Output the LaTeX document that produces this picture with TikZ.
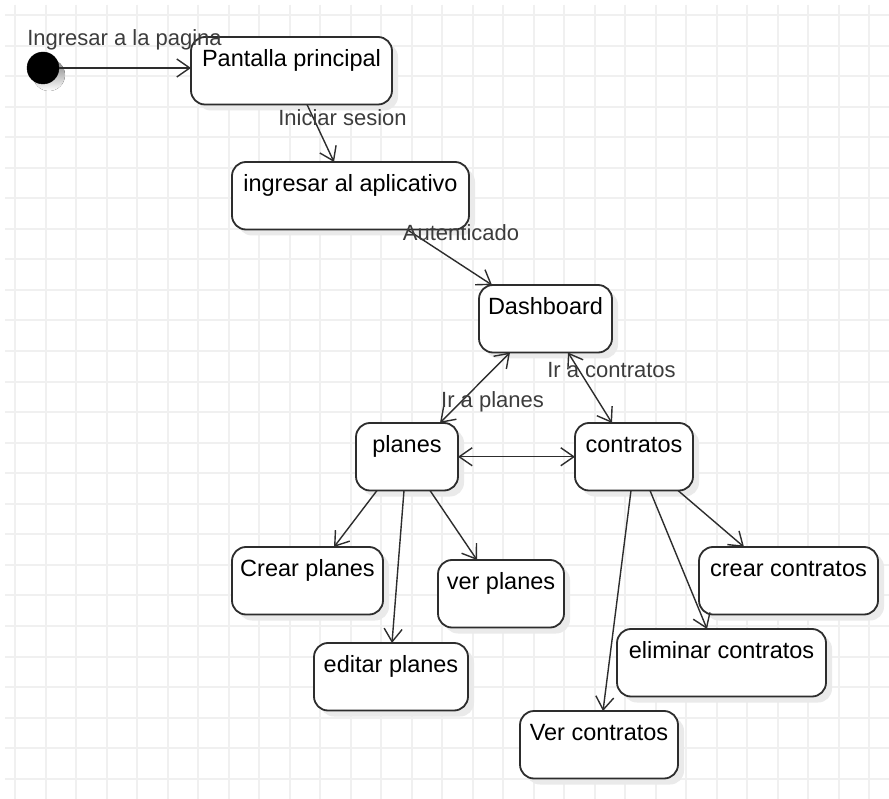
\documentclass[tikz,border=0pt]{standalone}
\usepackage{fontspec}
\setmainfont{Liberation Sans}
\usetikzlibrary{arrows.meta,shadows}

\definecolor{gridline}{RGB}{240,240,240}
\definecolor{edge}{RGB}{45,45,45}
\definecolor{shade}{RGB}{234,234,234}
\definecolor{lbltext}{RGB}{60,60,60}

\tikzset{
  >={Straight Barb[length=13pt,width=18pt]},
  statebox/.style={draw=edge, line width=1.8pt, rounded corners=14pt, fill=white,
    inner xsep=0pt, inner ysep=0pt, outer sep=0pt,
    text height=29.4pt, text depth=38.1pt, minimum width=#1,
    anchor=north west, font=\fontsize{23.5}{28}\selectfont,
    drop shadow={shadow xshift=6pt, shadow yshift=-6pt, fill=shade, opacity=1}},
  conn/.style={draw=edge, line width=1.4pt},
  lbl/.style={text=lbltext, inner sep=0pt, font=\fontsize{22}{26}\selectfont},
}

\begin{document}
\begin{tikzpicture}[x=1pt, y=-1pt]
  \useasboundingbox (0,0) rectangle (889,799);
  \fill[white] (0,0) rectangle (889,799);

  % background grid
  \foreach \k in {0,...,28}
    \draw[gridline, line width=2pt] ({15+30.5*\k},5) -- ({15+30.5*\k},799);
  \foreach \k in {0,...,25}
    \draw[gridline, line width=2pt] (5,{15+30.55*\k}) -- (889,{15+30.55*\k});

  % initial state
  \fill[shade] (49,75) circle (16);
  \node[circle, fill=black, draw=black, minimum size=32pt, inner sep=0pt, outer sep=0pt] (start) at (43,68) {};

  % states
  \node[statebox=201pt] (pant) at (191,37) {Pantalla principal};
  \node[statebox=237pt] (login) at (232,162) {ingresar al aplicativo};
  \node[statebox=133pt] (dash) at (479,285) {Dashboard};
  \node[statebox=102pt] (planes) at (356,423) {planes};
  \node[statebox=118pt] (contr) at (575,423) {contratos};
  \node[statebox=151pt] (crearp) at (232,547) {Crear planes};
  \node[statebox=126pt] (verp) at (438,560) {ver planes};
  \node[statebox=154pt] (editp) at (314,643) {editar planes};
  \node[statebox=179pt] (crearc) at (699,547) {crear contratos};
  \node[statebox=209pt] (elimc) at (617,629) {eliminar contratos};
  \node[statebox=158pt] (verc) at (520,711) {Ver contratos};

  % transitions
  \draw[conn, ->] (start.east) -- (pant.west |- start.east);
  \draw[conn, ->] ([xshift=116pt]pant.south west) -- ([xshift=102pt]login.north west);
  \draw[conn, ->] ([xshift=175pt]login.south west) -- ([xshift=13pt]dash.north west);
  \draw[conn, <->] ([xshift=31pt]dash.south west) -- ([xshift=84pt]planes.north west);
  \draw[conn, <->] ([xshift=89pt]dash.south west) -- ([xshift=37pt]contr.north west);
  \draw[conn, <->] (planes.east) -- (contr.west);
  \draw[conn, ->] ([xshift=21pt]planes.south west) -- ([xshift=102pt]crearp.north west);
  \draw[conn, ->] ([xshift=48pt]planes.south west) -- ([xshift=78pt]editp.north west);
  \draw[conn, ->] ([xshift=74pt]planes.south west) -- ([xshift=39pt]verp.north west);
  \draw[conn, ->] ([xshift=103pt]contr.south west) -- ([xshift=45pt]crearc.north west);
  \draw[conn, ->] ([xshift=75pt]contr.south west) -- ([xshift=90pt]elimc.north west);
  \draw[conn, ->] ([xshift=56pt]contr.south west) -- ([xshift=83pt]verc.north west);

  % transition labels
  \node[lbl] (l-ingresar) at (124.5,40) {Ingresar a la pagina};
  \node[lbl] (l-iniciar) at (342.5,118) {Iniciar sesion};
  \node[lbl] (l-auth) at (461,233) {Autenticado};
  \node[lbl] (l-planes) at (492.5,402) {Ir a planes};
  \node[lbl] (l-contr) at (611.5,370) {Ir a contratos};
\end{tikzpicture}
\end{document}
